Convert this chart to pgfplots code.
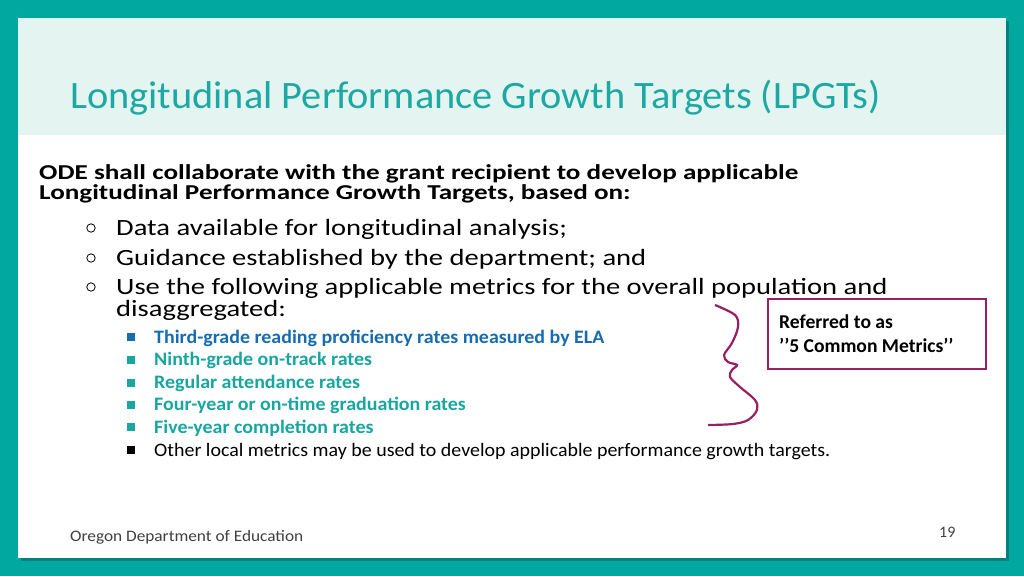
\documentclass[border=0pt]{standalone}
\usepackage{fontspec}
\setmainfont{Carlito}
\usepackage{graphicx}
\usepackage{pgfplots}
\pgfplotsset{compat=1.18}
\definecolor{bgteal}{RGB}{0,168,160}
\definecolor{shadowteal}{RGB}{0,128,122}
\definecolor{mint}{RGB}{227,244,241}
\definecolor{titleteal}{RGB}{28,168,163}
\definecolor{txtblue}{RGB}{23,108,176}
\definecolor{txtteal}{RGB}{24,166,160}
\definecolor{plum}{RGB}{152,32,98}
\definecolor{foot}{RGB}{64,64,64}
\newcommand{\fs}[1]{\fontsize{#1}{#1}\selectfont}
\newcommand{\T}[1]{\scalebox{1.04}[1]{\fs{38.8}#1}}
\newcommand{\HD}[1]{\scalebox{1.28}[1]{\fs{21.2}\bfseries #1}}
\newcommand{\LA}[1]{\scalebox{1.226}[1]{\fs{23.3}#1}}
\newcommand{\LB}[1]{\scalebox{1.05}[1]{\fs{19}#1}}
\begin{document}
\begin{tikzpicture}
\begin{axis}[
  scale only axis, width=1024pt, height=576pt,
  xmin=0, xmax=1024, ymin=0, ymax=576, y dir=reverse,
  hide axis, clip=false,
]
% backgrounds
\fill[bgteal] (axis cs:0,0) rectangle (axis cs:1024,576);
\fill[shadowteal] (axis cs:21,21) rectangle (axis cs:1009,561);
\fill[white] (axis cs:18,18) rectangle (axis cs:1006,558);
\fill[mint] (axis cs:18,18) rectangle (axis cs:1006,135);
% title
\node[anchor=base west, inner sep=0pt, text=titleteal] at (axis cs:70,108) {\T{Longitudinal Performance Growth Targets (LPGTs)}};
% heading
\node[anchor=base west, inner sep=0pt] at (axis cs:39,179) {\HD{ODE shall collaborate with the grant recipient to develop applicable}};
\node[anchor=base west, inner sep=0pt] at (axis cs:39,199) {\HD{Longitudinal Performance Growth Targets, based on:}};
% level 1 bullets
\addplot[only marks, mark=o, mark size=4.2pt, line width=0.8pt, color=black] coordinates {(91,228) (91,258) (91,287)};
\node[anchor=base west, inner sep=0pt] at (axis cs:116,235) {\LA{Data available for longitudinal analysis;}};
\node[anchor=base west, inner sep=0pt] at (axis cs:116,265) {\LA{Guidance established by the department; and}};
\node[anchor=base west, inner sep=0pt] at (axis cs:116,294) {\LA{Use the following applicable metrics for the overall population and}};
\node[anchor=base west, inner sep=0pt] at (axis cs:116,316) {\LA{disaggregated:}};
% level 2 bullets
\addplot[only marks, mark=square*, mark size=3.6pt, color=txtblue] coordinates {(131,337)};
\addplot[only marks, mark=square*, mark size=3.6pt, color=txtteal] coordinates {(131,360) (131,383) (131,405) (131,427)};
\addplot[only marks, mark=square*, mark size=3.6pt, color=black] coordinates {(131,450)};
\node[anchor=base west, inner sep=0pt, text=txtblue] at (axis cs:154,343) {\LB{\bfseries Third-grade reading proficiency rates measured by ELA}};
\node[anchor=base west, inner sep=0pt, text=txtteal] at (axis cs:154,365) {\LB{\bfseries Ninth-grade on-track rates}};
\node[anchor=base west, inner sep=0pt, text=txtteal] at (axis cs:154,388) {\LB{\bfseries Regular attendance rates}};
\node[anchor=base west, inner sep=0pt, text=txtteal] at (axis cs:154,410) {\LB{\bfseries Four-year or on-time graduation rates}};
\node[anchor=base west, inner sep=0pt, text=txtteal] at (axis cs:154,433) {\LB{\bfseries Five-year completion rates}};
\node[anchor=base west, inner sep=0pt] at (axis cs:154,456) {\LB{Other local metrics may be used to develop applicable performance growth targets.}};
% squiggle brace
\addplot[smooth, tension=0.55, color=plum, line width=2.2pt] coordinates {
 (715,305) (735,315) (738,327) (732,343) (724,355) (728,362) (737,365) (732,370) (730,377) (740,387) (755,400) (757,410) (748,420) (733,424) (708,425)};
% box
\draw[plum, line width=1.8pt] (axis cs:768,299) rectangle (axis cs:986,369);
\node[anchor=base west, inner sep=0pt] at (axis cs:779,328) {\fs{19.6}\bfseries Referred to as};
\node[anchor=base west, inner sep=0pt] at (axis cs:779,352) {\fs{19.6}\bfseries ’’5 Common Metrics’’};
% footer
\node[anchor=base west, inner sep=0pt, text=foot] at (axis cs:70,541) {\scalebox{1.08}[1]{\fs{16}Oregon Department of Education}};
\node[anchor=base west, inner sep=0pt, text=foot] at (axis cs:939,537) {\fs{16}19};
\end{axis}
\end{tikzpicture}
\end{document}
